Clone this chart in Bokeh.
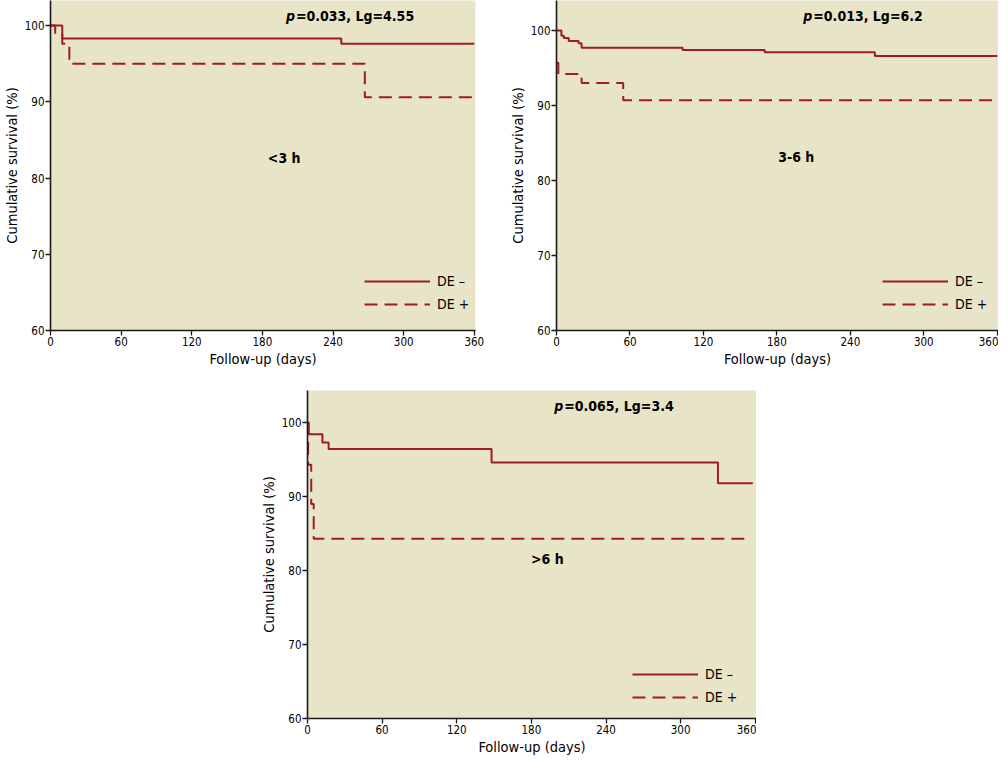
from bokeh.plotting import figure
from bokeh.models import Range1d, FixedTicker, Label, Legend, LegendItem, Spacer
from bokeh.layouts import column, row
from bokeh.embed import file_html
from bokeh.resources import INLINE

# ---------------- data ----------------
day_ticks = [0, 60, 120, 180, 240, 300, 360]
surv_ticks = [60, 70, 80, 90, 100]
series_labels = ["DE \u2013", "DE +"]

# <3 h panel
lt3_neg_days = [0, 10, 247, 360]
lt3_neg_surv = [100, 98.3, 97.6, 97.6]
lt3_pos_days = [0, 4, 10, 16, 267, 360]
lt3_pos_surv = [100, 98.9, 97.6, 95.0, 90.6, 90.6]

# 3-6 h panel
m36_neg_days = [0, 4, 6, 10, 18, 20.5, 103, 170, 260, 360]
m36_neg_surv = [100, 99.3, 99.0, 98.6, 98.3, 97.7, 97.4, 97.1, 96.6, 96.6]
m36_pos_days = [0, 1.5, 20.5, 54.5, 360]
m36_pos_surv = [95.7, 94.2, 93.0, 90.7, 90.7]

# >6 h panel
gt6_neg_days = [0, 1, 12, 17, 148, 330, 358]
gt6_neg_surv = [100, 98.4, 97.3, 96.4, 94.6, 91.8, 91.8]
gt6_pos_days = [0, 0.5, 3, 5, 355]
gt6_pos_surv = [100, 94.3, 89.0, 84.3, 84.3]

stats_texts = ["=0.033, Lg=4.55", "=0.013, Lg=6.2", "=0.065, Lg=3.4"]
group_texts = ["<3 h", "3-6 h", ">6 h"]

# ---------------- style ----------------
FONT = "DejaVu Sans Condensed, Liberation Sans Narrow, Roboto Condensed, Roboto"
BG = "#E8E4C8"
RED = "#9E1B27"


def make_panel(neg_d, neg_s, pos_d, pos_s, stat, group, fw, fh,
               mb_left, mb_right, mb_top, mb_bottom, y_top,
               stat_pos, group_pos, legend_loc):
    p = figure(frame_width=fw, frame_height=fh, output_backend="svg",
               toolbar_location=None,
               x_range=Range1d(0, 361), y_range=Range1d(60, y_top),
               min_border_left=mb_left, min_border_right=mb_right,
               min_border_top=mb_top, min_border_bottom=mb_bottom,
               background_fill_color=BG, border_fill_color="white",
               outline_line_color=None)
    p.grid.visible = False
    p.xaxis.ticker = FixedTicker(ticks=day_ticks)
    p.yaxis.ticker = FixedTicker(ticks=surv_ticks)
    for ax in (p.xaxis[0], p.yaxis[0]):
        ax.axis_line_color = "#1a1a1a"
        ax.axis_line_width = 1.6
        ax.major_tick_line_color = "#1a1a1a"
        ax.major_tick_line_width = 1.3
        ax.major_tick_out = 5
        ax.major_tick_in = 0
        ax.minor_tick_out = 0
        ax.minor_tick_in = 0
        ax.major_label_text_font = FONT
        ax.major_label_text_font_size = "11.5px"
        ax.major_label_text_color = "black"
        ax.major_label_standoff = 1
        ax.axis_label_text_font = FONT
        ax.axis_label_text_font_size = "14.5px"
        ax.axis_label_text_font_style = "normal"
        ax.axis_label_text_color = "black"
        ax.axis_label_standoff = 2
    p.xaxis.axis_label = "Follow-up (days)"
    p.yaxis.axis_label = "Cumulative survival (%)"

    r_neg = p.step(neg_d, neg_s, mode="after", line_color=RED, line_width=2)
    r_pos = p.step(pos_d, pos_s, mode="after", line_color=RED, line_width=2,
                   line_dash="13 7")

    sx, sy = stat_pos
    p.add_layout(Label(x=sx, y=sy, text="p", text_font=FONT,
                       text_font_style="bold italic", text_font_size="14px",
                       text_align="right", text_baseline="middle",
                       text_color="black"))
    p.add_layout(Label(x=sx, y=sy, text=stat, text_font=FONT,
                       text_font_style="bold", text_font_size="14px",
                       text_align="left", text_baseline="middle",
                       text_color="black", x_offset=1))
    gx, gy = group_pos
    p.add_layout(Label(x=gx, y=gy, text=group, text_font=FONT,
                       text_font_style="bold", text_font_size="14px",
                       text_align="center", text_baseline="middle",
                       text_color="black"))

    legend = Legend(items=[LegendItem(label=series_labels[0], renderers=[r_neg]),
                           LegendItem(label=series_labels[1], renderers=[r_pos])],
                    location=legend_loc, orientation="vertical",
                    background_fill_alpha=0, border_line_alpha=0,
                    padding=0, margin=0, spacing=7,
                    glyph_width=66, glyph_height=14, label_height=14,
                    label_standoff=7, label_text_font=FONT,
                    label_text_font_size="14px", label_text_color="black")
    p.add_layout(legend)
    return p


p1 = make_panel(lt3_neg_days, lt3_neg_surv, lt3_pos_days, lt3_pos_surv,
                stats_texts[0], group_texts[0],
                fw=425, fh=330, mb_left=50, mb_right=31, mb_top=0,
                mb_bottom=40, y_top=103.28,
                stat_pos=(207.6, 101.31), group_pos=(198.5, 82.6),
                legend_loc=(314, 18))

p2 = make_panel(m36_neg_days, m36_neg_surv, m36_pos_days, m36_pos_surv,
                stats_texts[1], group_texts[1],
                fw=442, fh=330, mb_left=50, mb_right=0, mb_top=0,
                mb_bottom=40, y_top=104.0,
                stat_pos=(208.9, 102.0), group_pos=(195.8, 83.1),
                legend_loc=(326, 18))

p3 = make_panel(gt6_neg_days, gt6_neg_surv, gt6_pos_days, gt6_pos_surv,
                stats_texts[2], group_texts[2],
                fw=449, fh=328, mb_left=50, mb_right=0, mb_top=20,
                mb_bottom=40, y_top=104.32,
                stat_pos=(205.6, 102.16), group_pos=(192.8, 81.5),
                legend_loc=(325, 13))

layout = column(row(p1, p2), row(Spacer(width=257, height=388), p3))

open("out.html", "w").write(file_html(layout, INLINE))
